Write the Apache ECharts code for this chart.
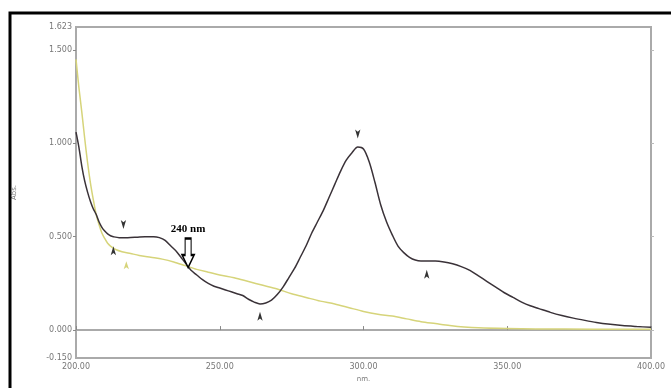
<!DOCTYPE html>
<html><head><meta charset="utf-8">
<script src="https://cdn.jsdelivr.net/npm/echarts@6/dist/echarts.min.js"></script>
<style>html,body{margin:0;padding:0;background:#fff}#c{width:671px;height:388px}</style>
</head><body><div id="c"></div>
<script>
// Wavelength (nm) and absorbance for the dark spectrum
const darkNm  = [200,201,202,203,204,205,206,207,208,209,210,211,212,213,215,218,221,224,227,229,231,233,235,237,239,240,242,244,246,248,250,252,254,256,258,260,262,264,266,268,270,272,274,276,278,280,282,284,286,288,290,292,294,296,298,300,302,304,306,308,310,312,314,316,318,320,322,325,328,331,334,337,340,343,346,349,352,355,358,361,365,369,373,377,381,385,390,395,400];
const darkAbs = [1.06,0.98,0.88,0.80,0.74,0.69,0.65,0.62,0.58,0.55,0.53,0.515,0.505,0.50,0.495,0.495,0.497,0.50,0.50,0.495,0.48,0.45,0.42,0.38,0.34,0.32,0.295,0.27,0.25,0.235,0.225,0.215,0.205,0.195,0.185,0.165,0.15,0.14,0.145,0.16,0.19,0.23,0.28,0.33,0.39,0.45,0.52,0.58,0.64,0.71,0.78,0.85,0.91,0.95,0.98,0.97,0.90,0.79,0.67,0.58,0.51,0.45,0.415,0.39,0.375,0.37,0.37,0.37,0.365,0.355,0.34,0.32,0.29,0.26,0.23,0.20,0.175,0.15,0.13,0.115,0.095,0.078,0.064,0.052,0.041,0.032,0.024,0.019,0.015];
// Wavelength (nm) and absorbance for the yellow spectrum
const yellowNm  = [200,201,202,203,204,205,206,207,208,209,210,211,212,214,216,219,222,226,230,234,238,242,246,250,255,260,265,270,275,280,285,290,295,300,305,310,315,320,325,330,335,340,350,360,380,400];
const yellowAbs = [1.45,1.30,1.17,1.03,0.90,0.79,0.70,0.62,0.565,0.52,0.49,0.465,0.45,0.43,0.42,0.41,0.40,0.39,0.38,0.365,0.345,0.325,0.31,0.295,0.28,0.26,0.24,0.22,0.195,0.175,0.155,0.14,0.12,0.10,0.085,0.075,0.06,0.045,0.035,0.025,0.017,0.012,0.008,0.006,0.005,0.005];
// Axis tick values
const xTicks = [200,250,300,350,400];
const yLabelValues = [-0.15,0,0.5,1,1.5,1.623];
const yTickValues = [0,0.5,1,1.5];
// Peak-pick markers: [nm, abs, direction]
const darkPicksUp   = [[213,0.47],[264,0.12],[322,0.345]];
const darkPicksDown = [[216.5,0.52],[298,1.005]];
const yellowPicksUp = [[217.5,0.39]];
// Annotation
const annoNm = 239, annoAbs = 0.335, annoText = '240 nm';

const zip = (a,b)=>a.map((v,i)=>[v,b[i]]);
const chart = echarts.init(document.getElementById('c'));
const labelStyle = {color:'#777', fontSize:8, fontFamily:'DejaVu Sans'};
const hollowArrow = 'path://M3,0 L9,0 L9,17 L12,17 L6,30 L0,17 L3,17 Z';
chart.setOption({
  animation:false,
  grid:{left:76,right:20,top:27,bottom:28,show:true,borderColor:'#aaa',borderWidth:2},
  graphic:[{type:'rect',shape:{x:10,y:13,width:680,height:400},style:{fill:'none',stroke:'#000',lineWidth:3},z:100}],
  xAxis:{type:'value',min:200,max:400,interval:50,
    name:'nm.',nameLocation:'middle',nameGap:16,nameTextStyle:{color:'#777',fontSize:7,fontFamily:'DejaVu Sans'},
    axisLine:{lineStyle:{color:'#aaa',width:2}},
    axisTick:{inside:true,length:4,lineStyle:{color:'#888'}},
    axisLabel:Object.assign({margin:5,formatter:v=>v.toFixed(2)},labelStyle),
    splitLine:{show:false}},
  yAxis:[{type:'value',min:-0.15,max:1.623,
    name:'Abs.',nameLocation:'middle',nameGap:58,nameTextStyle:{color:'#777',fontSize:7,fontFamily:'DejaVu Sans'},
    axisLine:{show:true,lineStyle:{color:'#aaa',width:2}},
    axisTick:{show:true,length:3,customValues:yTickValues,lineStyle:{color:'#888'}},
    axisLabel:Object.assign({margin:4,customValues:yLabelValues,formatter:v=>v.toFixed(3)},labelStyle),
    splitLine:{show:false}},
   {type:'value',min:-0.15,max:1.623,position:'right',
    axisLine:{show:true,lineStyle:{color:'#aaa',width:2}},
    axisTick:{show:true,length:3,inside:false,customValues:yTickValues,lineStyle:{color:'#bbb'}},
    axisLabel:{show:false},splitLine:{show:false}}],
  series:[
    {type:'line',data:zip(yellowNm,yellowAbs),smooth:0.3,showSymbol:false,
     lineStyle:{color:'#d6d47a',width:1.5},
     markPoint:{symbol:'arrow',symbolSize:[4,8],itemStyle:{color:'#d6d47a'},label:{show:false},
       data:yellowPicksUp.map(p=>({coord:p,symbolOffset:[0,4]}))}},
    {type:'line',data:zip(darkNm,darkAbs),smooth:0.3,showSymbol:false,
     lineStyle:{color:'#3a3238',width:1.5},
     markPoint:{symbol:'arrow',symbolSize:[4,9],itemStyle:{color:'#333'},label:{show:false},
       data:darkPicksUp.map(p=>({coord:p,symbolOffset:[0,4]}))
         .concat(darkPicksDown.map(p=>({coord:p,symbolRotate:180,symbolOffset:[0,-4]})))
         .concat([{coord:[annoNm,annoAbs],symbol:hollowArrow,symbolSize:[12,29],symbolRotate:0,symbolOffset:[0,'-50%'],
           itemStyle:{color:'#fff',borderColor:'#000',borderWidth:1.6},
           label:{show:true,position:'top',distance:3,formatter:annoText,color:'#000',fontSize:11,fontWeight:'bold',fontFamily:'Liberation Serif'}}])}}
  ]
});
</script></body></html>
